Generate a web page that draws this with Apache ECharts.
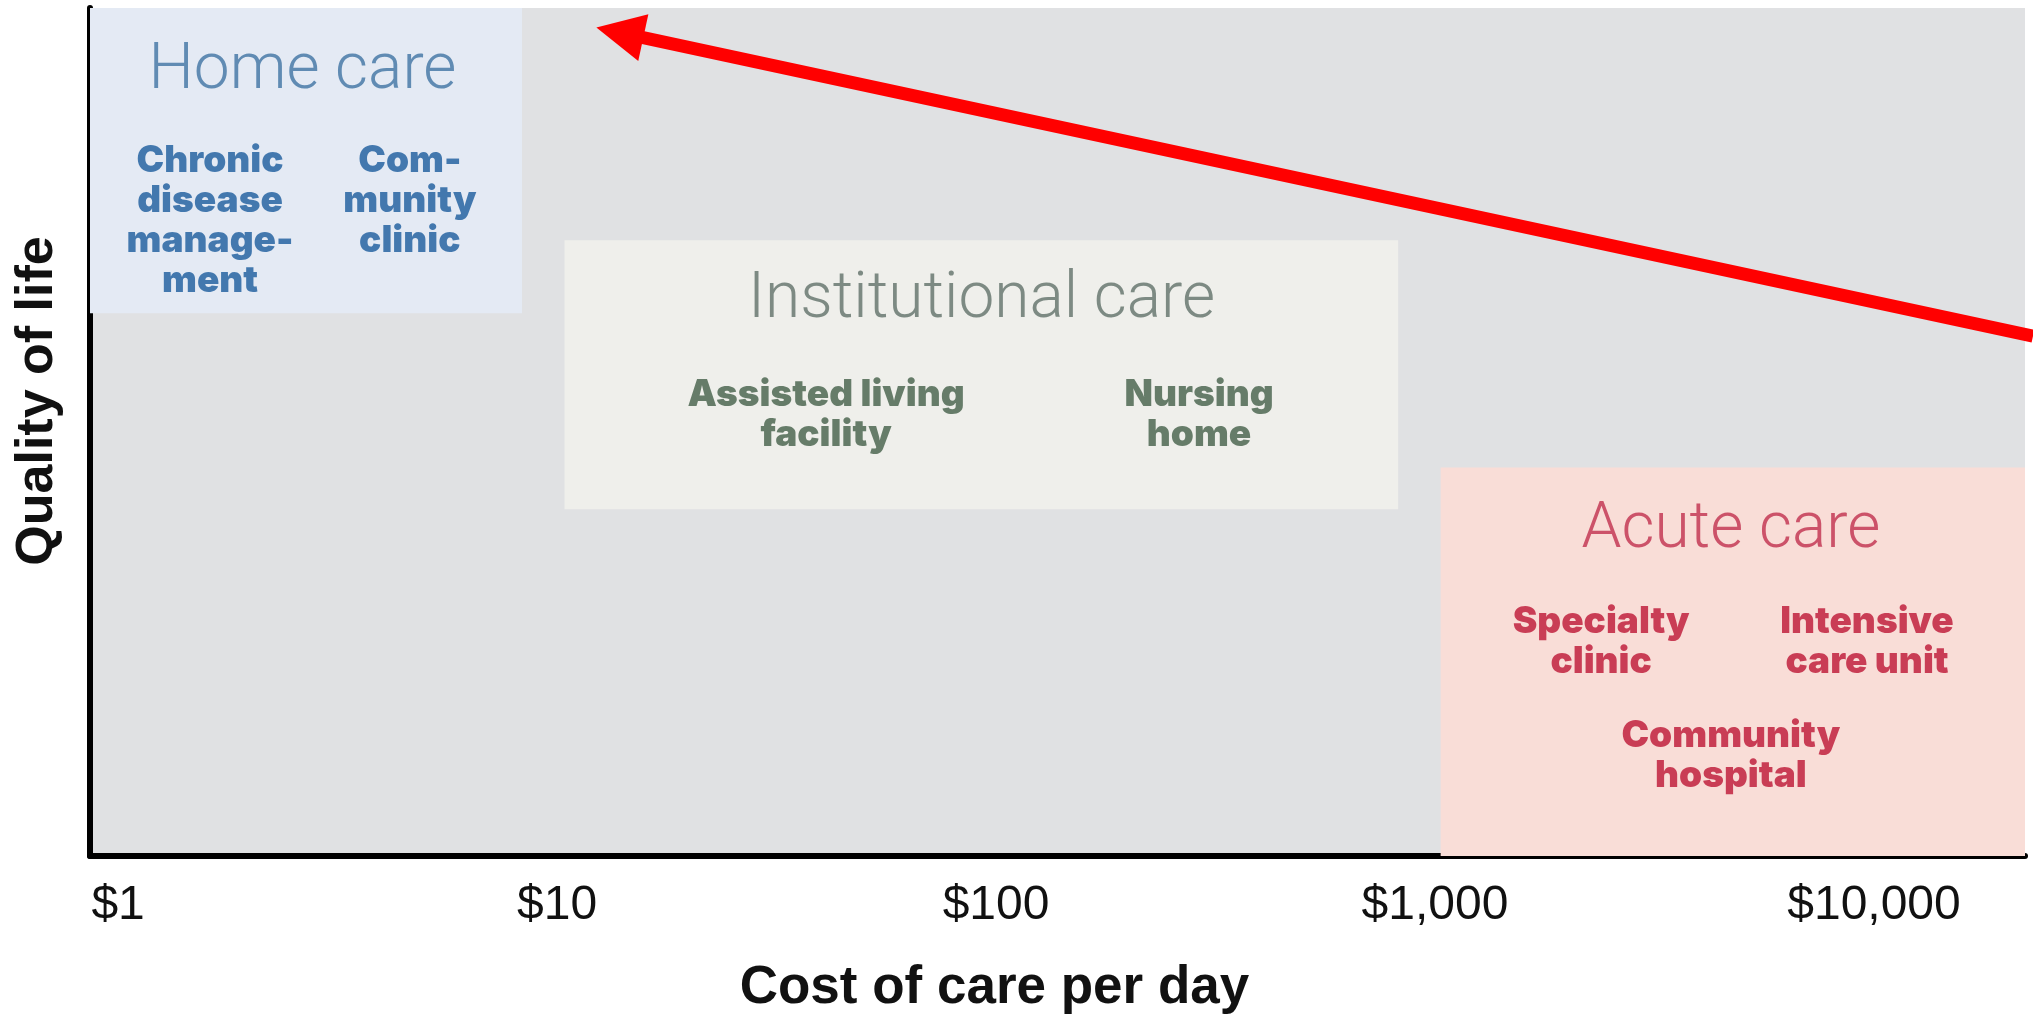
<!DOCTYPE html>
<html>
<head>
<meta charset="utf-8">
<title>Cost of care vs quality of life</title>
<script src="https://cdn.jsdelivr.net/npm/echarts@6/dist/echarts.min.js"></script>
<style>
  html, body { margin: 0; padding: 0; background: #ffffff; }
  #chart { width: 2033px; height: 1020px; }
</style>
</head>
<body>
<div id="chart"></div>
<script>
// Axis range and tick labels (cost per day, log scale)
var costMin = 0.863;
var costMax = 22080;
var costTicks = [1, 10, 100, 1000, 10000];

// Care settings (zones)
var zoneNames = ['Home care', 'Institutional care', 'Acute care'];
var zoneCostFrom = [0.863, 10.4, 1030];
var zoneCostTo = [8.32, 824, 22080];
var zoneQualityFrom = [64.0, 40.9, 0];
var zoneQualityTo = [100, 72.6, 45.8];
var zoneTitleCost = [2.63, 92.7, 4720];
var zoneTitleQuality = [92.4, 65.4, 38.3];

// Services inside each zone
var services = ['Chronic\ndisease\nmanage-\nment', 'Com-\nmunity\nclinic', 'Assisted living\nfacility', 'Nursing\nhome', 'Specialty\nclinic', 'Intensive\ncare unit', 'Community\nhospital'];
var serviceZone = [0, 0, 1, 1, 2, 2, 2];
var serviceCost = [1.62, 4.62, 41, 290, 2390, 9640, 4720];
var serviceQuality = [74.9, 77.2, 52.0, 52.0, 25.2, 25.2, 11.8];

// Red arrow (tail, head)
var arrowFrom = [23020, 61.3];
var arrowTo = [13.9, 97.1];

var zoneFill = ['#e4eaf4', '#efefeb', '#f9ddd7'];
var zoneTitleColor = ['#3f73a3', '#607169', '#c0304d'];
var serviceColor = ['#1a5b9c', '#435f49', '#bd1535'];

var chart = echarts.init(document.getElementById('chart'));

var areas = zoneNames.map(function (n, i) {
    return [
        { xAxis: zoneCostFrom[i], yAxis: zoneQualityTo[i], itemStyle: { color: zoneFill[i] } },
        { xAxis: zoneCostTo[i], yAxis: zoneQualityFrom[i] }
    ];
});

var titleData = zoneNames.map(function (n, i) {
    return {
        name: n,
        value: [zoneTitleCost[i], zoneTitleQuality[i]],
        label: { color: zoneTitleColor[i] }
    };
});

var serviceData = services.map(function (s, i) {
    return {
        name: s,
        value: [serviceCost[i], serviceQuality[i]],
        label: { color: serviceColor[serviceZone[i]] }
    };
});

chart.setOption({
    animation: false,
    backgroundColor: '#ffffff',

    grid: {
        left: 90,
        right: 8,
        top: 8,
        bottom: 153,
        show: true,
        backgroundColor: '#e0e1e3',
        borderWidth: 0
    },

    // Cost axis
    xAxis: {
        type: 'log',
        logBase: 10,
        min: costMin,
        max: costMax,
        name: 'Cost of care per day',
        nameLocation: 'middle',
        nameGap: 106,
        nameTextStyle: {
            fontFamily: 'Liberation Sans',
            fontWeight: 'bold',
            fontSize: 53,
            color: '#111',
            padding: [0, 126, 0, 0]
        },
        axisLine: { lineStyle: { color: '#000', width: 6 } },
        axisTick: { show: false },
        splitLine: { show: false },
        axisLabel: {
            customValues: costTicks,
            margin: 26,
            fontFamily: 'Liberation Sans',
            fontSize: 48,
            color: '#111',
            formatter: function (v) {
                return '$' + Math.round(v).toLocaleString('en-US');
            }
        }
    },

    // Quality axis (no scale shown)
    yAxis: {
        type: 'value',
        min: 0,
        max: 100,
        name: 'Quality of life',
        nameLocation: 'middle',
        nameGap: 26,
        nameTextStyle: {
            fontFamily: 'Liberation Sans',
            fontWeight: 'bold',
            fontSize: 52,
            color: '#111',
            padding: [0, 0, 0, 62]
        },
        axisLine: { show: true, lineStyle: { color: '#000', width: 6 } },
        axisTick: { show: false },
        axisLabel: { show: false },
        splitLine: { show: false }
    },

    series: [
        {
            name: 'zones',
            type: 'scatter',
            symbolSize: 0,
            silent: true,
            z: 3,
            data: titleData,
            label: {
                show: true,
                position: 'inside',
                formatter: '{b}',
                fontFamily: 'Roboto',
                fontWeight: 300,
                fontSize: 64
            },
            markArea: {
                silent: true,
                data: areas
            }
        },
        {
            name: 'services',
            type: 'scatter',
            symbolSize: 0,
            silent: true,
            z: 4,
            data: serviceData,
            label: {
                show: true,
                position: 'inside',
                formatter: '{b}',
                fontFamily: 'Inter',
                fontWeight: 900,
                fontSize: 37,
                lineHeight: 40,
                align: 'center'
            }
        },
        {
            name: 'arrow',
            type: 'lines',
            coordinateSystem: 'cartesian2d',
            silent: true,
            clip: false,
            z: 10,
            symbol: ['none', 'triangle'],
            symbolSize: 48,
            lineStyle: { color: '#ff0000', width: 13, opacity: 1 },
            data: [{ coords: [arrowFrom, arrowTo] }]
        }
    ]
});

window.addEventListener('resize', function () {
    chart.resize();
});
</script>
</body>
</html>
